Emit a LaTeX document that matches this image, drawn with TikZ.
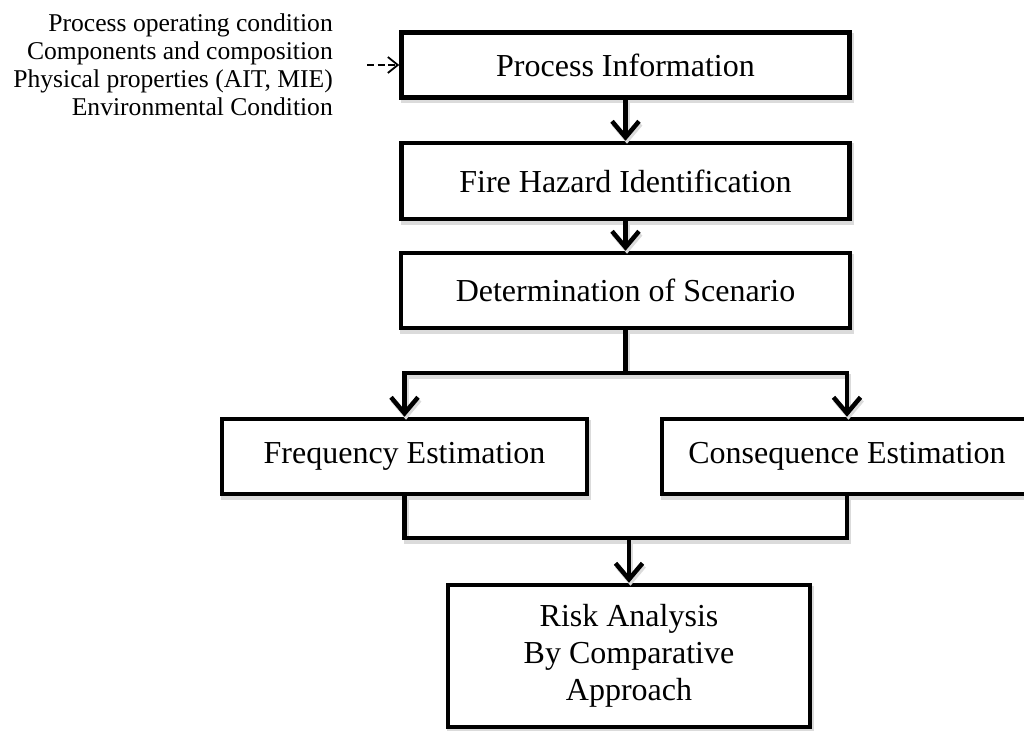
\documentclass[tikz,border=0pt]{standalone}
\usepackage{fontspec}
\setmainfont{Liberation Serif}
\usetikzlibrary{arrows.meta}
\tikzset{
  shad/.style={preaction={draw=black!14, line width=5pt, transform canvas={shift={(1.5,3)}}}},
  stepbox/.style={draw, fill=white, line width=4.5pt, inner sep=0pt, align=center,
    font=\fontsize{32}{37}\selectfont, shad},
  conn/.style={line width=4.5pt, shad},
  arr/.style={conn, -{Straight Barb[length=16pt,width=27pt]}},
  dasharr/.style={line width=1.8pt, dash pattern=on 7pt off 3.5pt, -{Straight Barb[length=10pt,width=16pt]}}
}
\begin{document}
\begin{tikzpicture}[x=1pt,y=-1pt]
\useasboundingbox (0,0) rectangle (1024,730);
\node[anchor=east, align=right, inner sep=0pt, font=\fontsize{25.6}{28}\selectfont] (info) at (333,65)
  {Process operating condition\\Components and composition\\Physical properties (AIT, MIE)\\Environmental Condition};
\node[stepbox, minimum width=448pt, minimum height=65pt] (b1) at (625.5,65) {Process Information};
\node[stepbox, minimum width=448pt, minimum height=76pt] (b2) at (625.5,181) {Fire Hazard Identification};
\node[stepbox, minimum width=449pt, minimum height=75pt] (b3) at (625.5,290.5) {Determination of Scenario};
\node[stepbox, minimum width=365pt, minimum height=75pt] (freq) at (404.5,456.5) {Frequency Estimation};
\node[stepbox, minimum width=380pt, minimum height=75pt] (cons) at (852,456.5) {\hspace*{-10pt}Consequence Estimation};
\node[stepbox, minimum width=362pt, minimum height=142pt] (risk) at (629,656) {Risk Analysis\\By Comparative\\Approach};
\coordinate (j1) at (625.5,373);
\coordinate (j2) at (629,538);
\draw[dasharr] ([xshift=34pt]info.east) -- (b1.west);
\draw[arr] (b1.south) -- (b2.north);
\draw[arr] (b2.south) -- (b3.north);
\draw[conn] (b3.south) -- (j1);
\draw[arr] (j1) -| (freq.north);
\draw[arr] (j1) -| ([xshift=-5pt]cons.north);
\draw[conn] (freq.south) |- (j2);
\draw[conn] ([xshift=-5pt]cons.south) |- (j2);
\draw[arr] (j2) -- (risk.north);
\end{tikzpicture}
\end{document}
